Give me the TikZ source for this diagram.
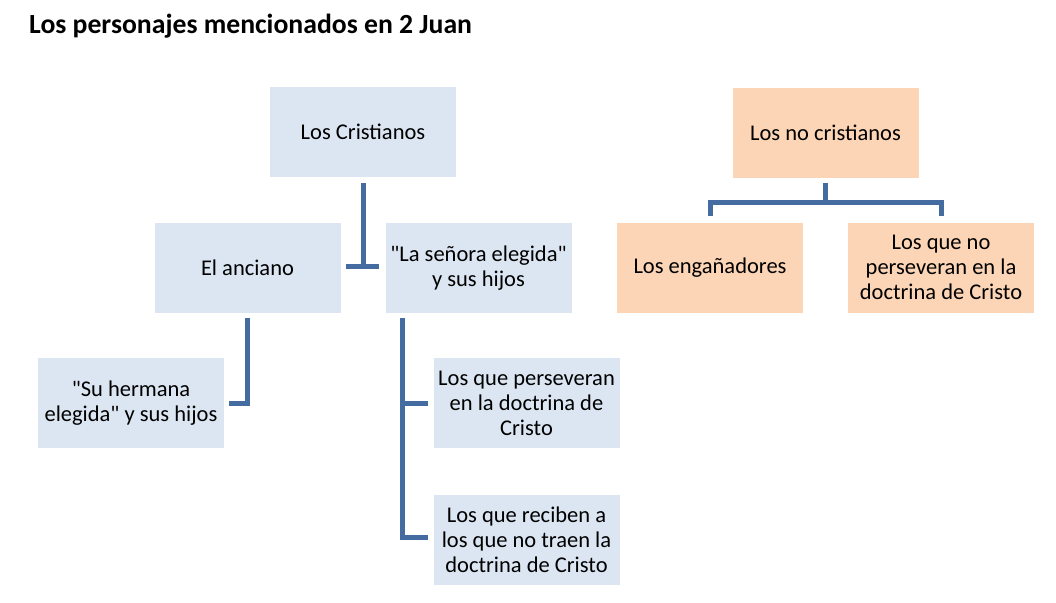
\documentclass[tikz,border=0pt]{standalone}
\usepackage{fontspec}
\setmainfont{Carlito}[Ligatures=TeXOff]
\usetikzlibrary{positioning}
\definecolor{boxblue}{RGB}{220,230,242}
\definecolor{boxorange}{RGB}{251,213,181}
\definecolor{linkblue}{RGB}{68,108,160}

\begin{document}
\begin{tikzpicture}[x=1pt,y=-1pt]
    \tikzstyle{box}=[rectangle, minimum width=186pt, minimum height=90pt, inner sep=1pt, align=center, font=\fontsize{22.5}{25}\selectfont]
    \tikzstyle{cristiano}=[box, fill=boxblue]
    \tikzstyle{nocristiano}=[box, fill=boxorange]
    \tikzstyle{link}=[draw=linkblue, line width=5pt]

    \useasboundingbox (0,0) rectangle (1056,602);

    \node[anchor=base west, inner sep=0pt, font=\bfseries\fontsize{27.7}{32}\selectfont] (title) at (29,34) {Los personajes mencionados en 2 Juan};

    % los cristianos
    \node[cristiano] (cri) at (363,132) {Los Cristianos};
    \node[cristiano] (anc) at (247.5,268) {El anciano};
    \node[cristiano] (sen) at (478.5,268) {"La señora elegida"\\ y sus hijos};
    \node[cristiano] (her) at (131,403) {"Su hermana\\ elegida" y sus hijos};
    \node[cristiano] (per) at (526.5,403) {Los que perseveran\\ en la doctrina de\\ Cristo};
    \node[cristiano] (rec) at (526.5,540) {Los que reciben a\\ los que no traen la\\ doctrina de Cristo};

    % los no cristianos
    \node[nocristiano] (nocri) at (825.5,132.5) {Los no cristianos};
    \node[nocristiano] (eng) at (710,267.5) {Los engañadores};
    \node[nocristiano] (nop) at (941,267.5) {Los que no\\ perseveran en la\\ doctrina de Cristo};

    \draw[link] ([yshift=-6pt]cri.south) -- ++(0,86);
    \draw[link] ([xshift=5pt,yshift=2pt]anc.east) -- ([xshift=-6pt,yshift=2pt]sen.west);
    \draw[link] ([yshift=-5pt]anc.south) |- ([xshift=5pt]her.east);
    \draw[link] ([xshift=17pt,yshift=-5pt]sen.south west) |- ([xshift=-5pt]per.west);
    \draw[link] ([xshift=17pt,yshift=-5pt]sen.south west) |- ([xshift=-5pt,yshift=3pt]rec.west);

    \draw[link] ([yshift=-5pt]nocri.south) -- ++(0,19.5) coordinate (nc-bar);
    \foreach \n in {eng,nop}{
        \draw[link] (nc-bar) -| ([yshift=6pt]\n.north);
    }
\end{tikzpicture}
\end{document}
